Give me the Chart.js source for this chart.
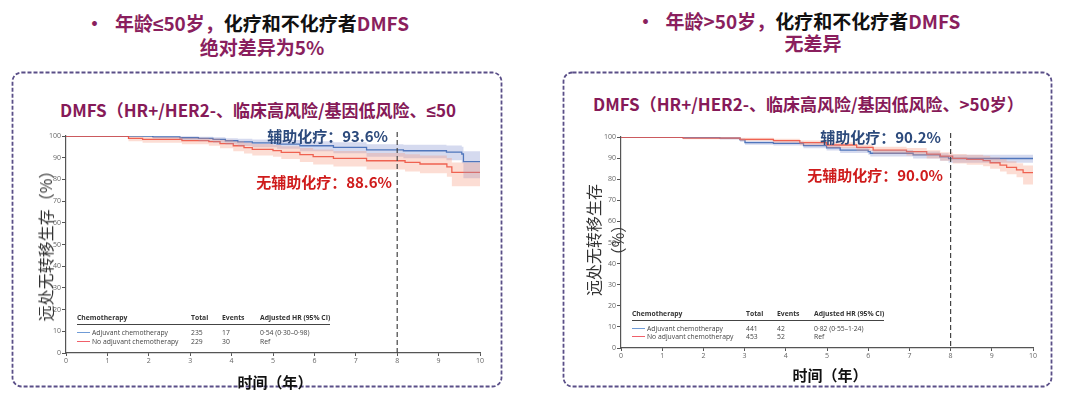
<!DOCTYPE html>
<html>
<head>
<meta charset="utf-8">
<script src="https://cdn.jsdelivr.net/npm/chart.js@4.4.1/dist/chart.umd.min.js"></script>
<style>
  body { margin: 0; width: 1080px; height: 398px; position: relative; overflow: hidden; background: #fff;
         font-family: "Noto Sans CJK SC", "Noto Sans", sans-serif; }
  .abs { position: absolute; white-space: nowrap; }
  .head { font-weight: bold; font-size: 19px; line-height: 24px; text-align: center; color: #8a1f5e; }
  .head .blk { color: #111; }
  .lat { font-family: "Noto Sans", sans-serif; }
  .ctitle { font-weight: bold; font-size: 17px; line-height: 22px; color: #861a58; }
  .note { font-weight: bold; font-size: 15px; line-height: 20px; }
  .ytitle { font-size: 16px; line-height: 20px; color: #333; transform: translate(-50%, -50%) rotate(-90deg); }
  .xtitle { font-weight: bold; font-size: 15px; line-height: 20px; color: #111; transform: translate(-50%, -50%); }
  .tb { font-family: "Open Sans", "Liberation Sans", sans-serif; font-size: 6.8px; line-height: 9px; color: #444; }
  .tb.b { font-weight: bold; color: #333; }
</style>
</head>
<body>

<!-- headings -->
<div class="abs head" style="left:85px;top:11px;">•</div>
<div class="abs head" style="left:0;width:524px;top:11px;">年龄<span class="lat">≤</span>50岁，<span class="blk">化疗和不化疗者</span>DMFS</div>
<div class="abs head" style="left:0;width:524px;top:35px;">绝对差异为5%</div>
<div class="abs head" style="left:636px;top:9px;">•</div>
<div class="abs head" style="left:540px;width:546px;top:9px;">年龄>50岁，<span class="blk">化疗和不化疗者</span>DMFS</div>
<div class="abs head" style="left:540px;width:546px;top:31px;">无差异</div>

<svg class="abs" style="left:0;top:0;" width="1080" height="398">
  <rect x="12.5" y="72.5" width="489" height="314" rx="9" fill="none" stroke="#5a4f88" stroke-width="1.8" stroke-dasharray="4 2"/>
  <rect x="563.5" y="72.5" width="488" height="314" rx="9" fill="none" stroke="#5a4f88" stroke-width="1.8" stroke-dasharray="4 2"/>
</svg>

<div class="abs ctitle" style="left:60px;top:99px;">DMFS（HR+/HER2-、临床高风险/基因低风险、<span class="lat">≤</span>50</div>
<div class="abs ctitle" style="left:593px;top:93px;">DMFS（HR+/HER2-、临床高风险/基因低风险、&gt;50岁）</div>

<canvas id="c1" width="495" height="265" style="position:absolute;left:10px;top:120px;"></canvas>
<canvas id="c2" width="490" height="260" style="position:absolute;left:565px;top:120px;"></canvas>

<div class="abs note" style="right:692px;top:126px;color:#2c4a7c;">辅助化疗：93.6%</div>
<div class="abs note" style="right:688px;top:172px;color:#cf1b1b;">无辅助化疗：88.6%</div>
<div class="abs note" style="right:139px;top:127px;color:#2c4a7c;">辅助化疗：90.2%</div>
<div class="abs note" style="right:137px;top:165px;color:#cf1b1b;">无辅助化疗：90.0%</div>

<div class="abs ytitle" style="left:45px;top:242px;">远处无转移生存（%）</div>
<div class="abs ytitle" style="left:593px;top:240px;">远处无转移生存</div>
<div class="abs ytitle" style="left:617px;top:240px;">（%）</div>

<div class="abs xtitle" style="left:275px;top:382px;">时间（年）</div>
<div class="abs xtitle" style="left:830px;top:375px;">时间（年）</div>

<div id="tables"></div>

<script>
// ---- left chart (age <= 50) ----
const leftAdjTimes  = [0, 2.1, 2.75, 3.2, 3.55, 3.85, 4.15, 4.5, 5.1, 5.65, 6.46, 7.26, 8.15, 9.19, 9.56, 9.6, 10];
const leftAdjSurv   = [100, 99.6, 99.2, 98.9, 98.4, 97.8, 97.3, 96.8, 96.3, 95.5, 94.8, 93.6, 93.2, 92.6, 91.7, 88.2, 88.2];
const leftAdjUpper  = [100, 100, 99.9, 99.7, 99.4, 99.0, 98.7, 98.4, 98.1, 97.6, 97.1, 96.2, 96.0, 95.6, 95.0, 93.0, 93.0];
const leftAdjLower  = [100, 98.8, 98.1, 97.6, 96.9, 96.1, 95.4, 94.8, 94.1, 93.0, 92.0, 90.4, 89.8, 88.8, 87.5, 80.5, 80.5];

const leftNoTimes   = [0, 1.51, 1.85, 2.8, 3.45, 3.72, 4.04, 4.3, 4.5, 5.0, 5.2, 5.65, 5.97, 6.46, 7.26, 8.19, 8.55, 9.2, 9.32, 10];
const leftNoSurv    = [100, 98.9, 98.4, 97.9, 97.4, 96.5, 95.5, 94.6, 93.8, 93.3, 92.5, 91.4, 90.5, 89.7, 88.6, 87.8, 87.1, 85.8, 83.2, 83.2];
const leftNoUpper   = [100, 99.8, 99.5, 99.2, 98.9, 98.3, 97.6, 96.9, 96.3, 95.9, 95.3, 94.5, 93.8, 93.1, 92.2, 91.6, 91.0, 89.9, 87.8, 87.8];
const leftNoLower   = [100, 97.6, 96.9, 96.2, 95.5, 94.3, 93.0, 91.9, 91.0, 90.4, 89.4, 88.0, 86.9, 85.9, 84.6, 83.6, 82.8, 81.2, 76.8, 76.8];

// ---- right chart (age > 50) ----
const rightAdjTimes = [0, 1.51, 2.4, 2.89, 3.01, 3.7, 4.43, 4.99, 5.32, 6.0, 6.05, 7.09, 7.74, 7.95, 10];
const rightAdjSurv  = [100, 99.7, 99.4, 98.6, 97.3, 97.0, 95.9, 94.9, 93.8, 93.1, 92.3, 91.5, 90.6, 89.8, 89.8];
const rightAdjUpper = [100, 100, 99.9, 99.3, 98.2, 97.9, 97.0, 96.1, 95.1, 94.5, 93.8, 93.1, 92.3, 91.6, 91.6];
const rightAdjLower = [100, 99.3, 98.8, 97.8, 96.3, 96.0, 94.7, 93.6, 92.4, 91.6, 90.7, 89.8, 88.8, 87.8, 87.8];

const rightNoTimes  = [0, 1.51, 2.89, 3.7, 4.34, 4.99, 5.72, 6.12, 6.93, 7.42, 7.75, 8.05, 8.39, 8.79, 8.96, 9.2, 9.36, 9.6, 9.76, 10];
const rightNoSurv   = [100, 99.5, 98.9, 98.3, 97.3, 96.2, 95.1, 93.8, 93.1, 91.9, 90.9, 89.9, 89.4, 88.8, 87.8, 86.7, 85.6, 84.4, 83.1, 83.1];
const rightNoUpper  = [100, 99.9, 99.6, 99.2, 98.4, 97.5, 96.5, 95.4, 94.8, 93.7, 92.8, 92.0, 91.6, 91.1, 90.3, 89.4, 88.5, 87.6, 86.5, 86.5];
const rightNoLower  = [100, 98.9, 98.1, 97.3, 96.1, 94.8, 93.5, 92.0, 91.2, 89.8, 88.7, 87.5, 86.9, 86.1, 84.9, 83.6, 82.3, 80.9, 77.5, 77.5];

const landmarkYear = 8;

// legend tables
const tableHeader = ["Chemotherapy", "Total", "Events", "Adjusted HR (95% CI)"];
const leftRows  = [["Adjuvant chemotherapy", "235", "17", "0·54 (0·30–0·98)"],
                   ["No adjuvant chemotherapy", "229", "30", "Ref"]];
const rightRows = [["Adjuvant chemotherapy", "441", "42", "0·82 (0·55–1·24)"],
                   ["No adjuvant chemotherapy", "453", "52", "Ref"]];

const BLUE = "#3b6cb4", RED = "#ec4a3e";
const BLUE_BAND = "rgba(125,140,205,0.32)", RED_BAND = "rgba(246,150,120,0.32)";

function pts(times, vals) {
  return times.map((t, i) => ({ x: t, y: vals[i] }));
}

const vline = {
  id: "vline",
  afterDatasetsDraw(chart) {
    const { ctx, chartArea, scales } = chart;
    const x = scales.x.getPixelForValue(landmarkYear);
    ctx.save();
    ctx.strokeStyle = "#444";
    ctx.lineWidth = 1.2;
    ctx.setLineDash([5, 3]);
    ctx.beginPath();
    ctx.moveTo(x, chartArea.top - 4);
    ctx.lineTo(x, chartArea.bottom);
    ctx.stroke();
    ctx.restore();
  }
};

function makeChart(id, s, pad) {
  const band = (data, color, fill) => ({
    data, borderWidth: 0, pointRadius: 0, stepped: true, fill, backgroundColor: color, borderColor: "transparent"
  });
  const line = (data, color) => ({
    data, borderWidth: 1.3, pointRadius: 0, stepped: true, fill: false, borderColor: color
  });
  new Chart(document.getElementById(id), {
    type: "line",
    data: {
      datasets: [
        band(pts(s.noT, s.noU), RED_BAND, "+1"),
        band(pts(s.noT, s.noL), RED_BAND, false),
        band(pts(s.adjT, s.adjU), BLUE_BAND, "+1"),
        band(pts(s.adjT, s.adjL), BLUE_BAND, false),
        line(pts(s.noT, s.noS), RED),
        line(pts(s.adjT, s.adjS), BLUE)
      ]
    },
    options: {
      responsive: false,
      animation: false,
      layout: { padding: { top: pad.top, right: pad.right, left: 0, bottom: 0 } },
      plugins: { legend: { display: false }, tooltip: { enabled: false } },
      elements: { line: { tension: 0 } },
      scales: {
        x: {
          type: "linear", min: 0, max: 10,
          ticks: { stepSize: 1, color: "#666", font: { size: 7, family: "Open Sans" }, padding: 1, maxRotation: 0 },
          grid: { drawOnChartArea: false, tickLength: 3, color: "#555" },
          border: { color: "#555", width: 1.2 },
          afterFit: sc => { sc.height = pad.xh; }
        },
        y: {
          min: 0, max: 100,
          ticks: { stepSize: 10, color: "#666", font: { size: 7, family: "Open Sans" }, padding: 1 },
          grid: { drawOnChartArea: false, tickLength: 4, color: "#555" },
          border: { color: "#555", width: 1.2 },
          afterFit: sc => { sc.width = pad.yw; }
        }
      }
    },
    plugins: [vline]
  });
}

makeChart("c1", {
  adjT: leftAdjTimes, adjS: leftAdjSurv, adjU: leftAdjUpper, adjL: leftAdjLower,
  noT: leftNoTimes, noS: leftNoSurv, noU: leftNoUpper, noL: leftNoLower
}, { top: 16, right: 25, xh: 32, yw: 56 });

makeChart("c2", {
  adjT: rightAdjTimes, adjS: rightAdjSurv, adjU: rightAdjUpper, adjL: rightAdjLower,
  noT: rightNoTimes, noS: rightNoSurv, noU: rightNoUpper, noL: rightNoLower
}, { top: 17, right: 22, xh: 32, yw: 56 });

// legend tables drawn as html text
function table(rows, cols, y, ruleRight) {
  const wrap = document.getElementById("tables");
  const cell = (txt, x, yy, bold) => {
    const d = document.createElement("div");
    d.className = "abs tb" + (bold ? " b" : "");
    d.style.left = x + "px";
    d.style.top = (yy - 4.5) + "px";
    d.textContent = txt;
    wrap.appendChild(d);
  };
  tableHeader.forEach((h, i) => cell(h, cols[i], y.head, true));
  const rule = document.createElement("div");
  rule.className = "abs";
  rule.style.cssText = `left:${cols[0]}px;top:${y.rule}px;width:${ruleRight - cols[0]}px;border-top:1px solid #444;`;
  wrap.appendChild(rule);
  rows.forEach((r, k) => {
    const yy = y.rows[k];
    const sw = document.createElement("div");
    sw.className = "abs";
    sw.style.cssText = `left:${cols[0]}px;top:${yy}px;width:13px;border-top:1px solid ${k === 0 ? "#6f9bd6" : "#f0606a"};`;
    wrap.appendChild(sw);
    cell(r[0], cols[0] + 15, yy, false);
    for (let i = 1; i < 4; i++) cell(r[i], cols[i], yy, false);
  });
}

table(leftRows, [77, 191, 222, 260], { head: 317, rule: 324, rows: [332, 341] }, 330);
table(rightRows, [632, 746, 777, 814], { head: 313, rule: 320, rows: [328, 336] }, 884);
</script>
</body>
</html>
